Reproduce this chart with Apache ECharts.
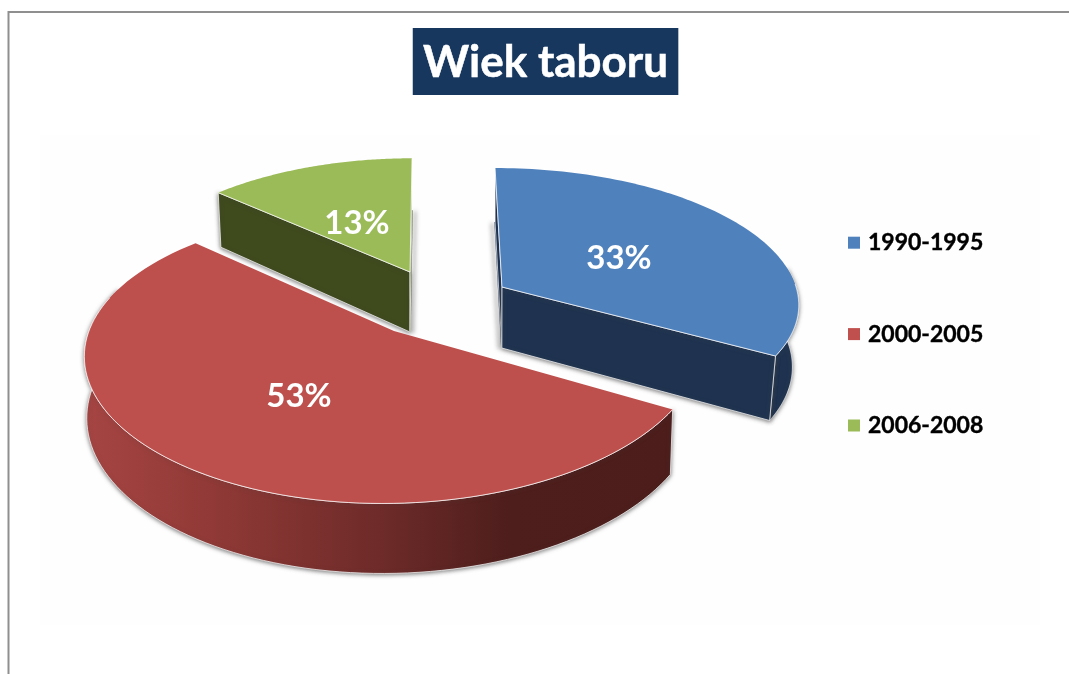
<!DOCTYPE html>
<html><head><meta charset="utf-8">
<style>html,body{margin:0;padding:0;background:#fff}#c{width:1069px;height:674px}</style>
<script src="https://cdn.jsdelivr.net/npm/echarts@6/dist/echarts.min.js"></script>
</head><body><div id="c"></div>
<script>
const titleText = 'Wiek taboru';
const categories = ['1990-1995', '2000-2005', '2006-2008'];
const values = [33, 53, 13];
const colors = ['#4f81bd', '#c0504d', '#9bbb59'];

const total = values.reduce((a, b) => a + b, 0);
const font = 'Lato, Carlito, "Open Sans", sans-serif';
const redWall = {type:'linear',x:85,y:0,x2:673,y2:0,global:true,colorStops:[
  {offset:0,color:'#a64543'},{offset:.2,color:'#923a37'},{offset:.5,color:'#6e2b29'},{offset:.72,color:'#4e1e1c'},{offset:1,color:'#4c1d1b'}]};

/* projection of each exploded slice from its circle to the picture */
const layout = [
  {ax:502,ay:287,R:294,S:131,s:7.7,k:-.101,kx:-.11,h0:61,h1:7,fix:495,f:.021,wall:'#1f3350',face:'#1f3350',faces:[0,1],
   label:[117,-29],edgeFrom:.74,edgeTo:1,wallFrom:.68,wallTo:1,top:'#4f81bd',sliver:0,sdx:-3},
  {ax:394,ay:331,R:305,S:144,s:-10,k:-.165,kx:-.14,h0:60,h1:10,fix:385,f:.008,wall:redWall,face:'#4e1e1c',faces:[],
   label:[-95,65],edgeFrom:0,edgeTo:.85,wallFrom:0,wallTo:.87,top:'#bd4f4c'},
  {ax:410,ay:272,R:288,S:124.5,s:-2.3,k:-.095,kx:-.14,h0:60,h1:8,fix:410,f:.014,wall:'#3f4a1d',face:'#3f4a1d',faces:[0,1],
   label:[-53,-49],noArc:true,top:'#9bbb59',sliver:1,sdx:3}
];

function makeRender(i){
  return function(params, api){
    const L = layout[i];
    const v = api.value(0);
    let before = 0; for(let j=0;j<i;j++) before += values[j];
    const a0 = before/total*2*Math.PI, a1 = (before+v)/total*2*Math.PI;
    const top = t => { const X=Math.sin(t),Y=-Math.cos(t);
      return [L.ax+(L.R*X+L.s*Y)/(1+L.kx*Y), L.ay+L.S*Y/(1+L.k*Y)]; };
    const low = t => { const p=top(t),Y=-Math.cos(t);
      return [p[0]+(L.fix-p[0])*L.f, p[1]+L.h0+L.h1*Y]; };
    const apex=[L.ax,L.ay], apexLow=[L.ax+(L.fix-L.ax)*L.f,L.ay+L.h0];
    const arc=(f,from,to,n=90)=>{const o=[];for(let q=0;q<=n;q++)o.push(f(from+(to-from)*q/n));return o;};
    const tAt=u=>a0+(a1-a0)*u;
    const edge='rgba(255,255,255,.7)';
    const shadow=dx=>({shadowBlur:4,shadowColor:'rgba(70,70,70,.75)',shadowOffsetX:dx||0,shadowOffsetY:1});
    const kids=[];
    if(!L.noArc){
      const s=tAt(L.wallFrom), e=tAt(L.wallTo);
      kids.push({type:'polygon',shape:{points:arc(top,s,e).concat(arc(low,s,e).reverse())},
        style:Object.assign({fill:L.wall,stroke:edge,lineWidth:1},shadow())});
    }
    L.faces.forEach(side=>{
      const t=side?a1:a0, isSliver=side===L.sliver;
      if(isSliver){
        kids.push({type:'polyline',shape:{points:[low(t),apexLow]},
          style:Object.assign({fill:'none',stroke:L.face,lineWidth:1.5},shadow(L.sdx))});
      }
      kids.push({type:'polygon',shape:{points:[top(t),apex,apexLow,low(t)]},
        style:Object.assign({fill:L.face,stroke:edge,lineWidth:1},isSliver?{}:shadow())});
    });
    kids.push({type:'polygon',shape:{points:[apex].concat(arc(top,a0,a1))},style:{fill:L.top}});
    if(L.faces.length){
      kids.push({type:'polyline',shape:{points:[top(a0),apex,top(a1)]},style:{fill:'none',stroke:edge,lineWidth:1}});
    }
    if(!L.noArc){
      kids.push({type:'polyline',shape:{points:arc(top,tAt(L.edgeFrom),tAt(L.edgeTo))},style:{fill:'none',stroke:edge,lineWidth:1}});
    }
    kids.push({type:'text',style:{text:v+'%',x:L.ax+L.label[0],y:L.ay+L.label[1],fill:'#fff',
      font:'bold 33px '+font,align:'center',verticalAlign:'middle'}});
    return {type:'group',children:kids};
  };
}

const chart = echarts.init(document.getElementById('c'));
chart.setOption({
  animation:false,
  backgroundColor:'#fff',
  title:{text:titleText,left:413,top:28,backgroundColor:'#17375e',
    padding:[12,10,10,10],
    textStyle:{color:'#fff',fontFamily:font,fontWeight:'bold',fontSize:44,lineHeight:45,
      textBorderColor:'#fff',textBorderWidth:.5}},
  legend:{orient:'vertical',left:848,top:231,padding:0,itemWidth:12,itemHeight:12,itemGap:68,icon:'rect',
    data:categories,
    textStyle:{color:'#000',fontFamily:font,fontWeight:'bold',fontSize:23,padding:[0,0,0,3],
      textBorderColor:'#000',textBorderWidth:.4}},
  graphic:[
    {type:'rect',z:-10,shape:{x:40,y:135,width:1000,height:490},style:{fill:'#fefefe'},silent:true},
    {type:'polyline',z:-5,shape:{points:[[8.5,674],[8.5,12],[1069,12]]},style:{fill:'none',stroke:'#8f8f8f',lineWidth:2},silent:true}
  ],
  series:[2,0,1].map(i=>({
    type:'custom',name:categories[i],coordinateSystem:'none',silent:true,
    itemStyle:{color:colors[i]},
    renderItem:makeRender(i),
    data:[[values[i]]]
  }))
});
</script></body></html>
